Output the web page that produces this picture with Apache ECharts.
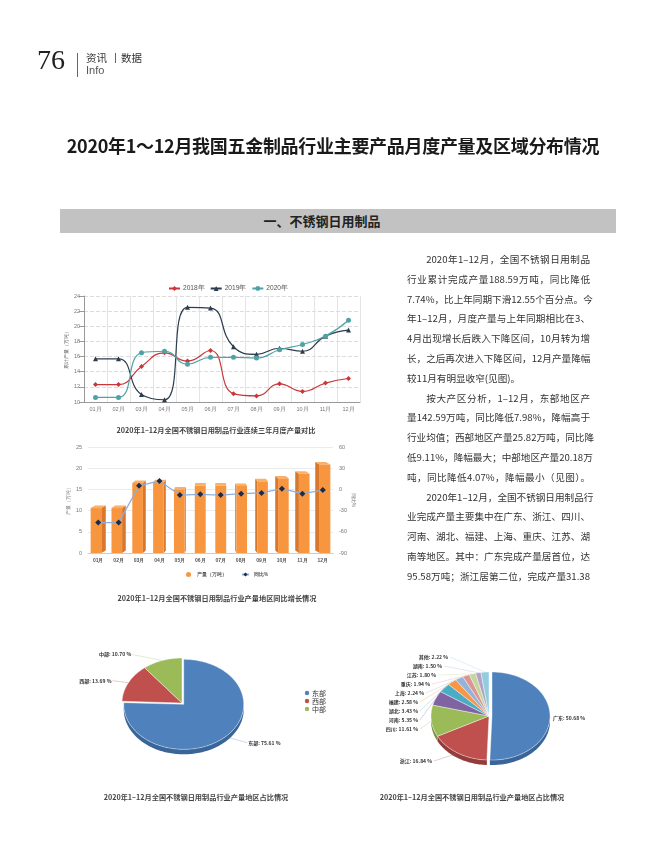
<!DOCTYPE html>
<html><head><meta charset="utf-8">
<script src="https://cdn.jsdelivr.net/npm/echarts@6/dist/echarts.min.js"></script>
<style>
html,body{margin:0;padding:0;background:#fff;}
#page{position:relative;width:650px;height:850px;overflow:hidden;font-family:"Noto Sans CJK SC","Noto Sans",sans-serif;color:#333;}
#chart{position:absolute;left:0;top:0;width:650px;height:850px;}
.t{position:absolute;white-space:nowrap;}
.para{position:absolute;left:407px;top:250px;width:183px;font-size:9.6px;color:#333;}
.para div{height:19.8px;line-height:19.8px;text-align:justify;text-align-last:justify;white-space:nowrap;overflow:visible;}
.para div.ind{padding-left:19.2px;}
.para div.last{text-align-last:left;}
.cap{position:absolute;width:320px;text-align:center;font-size:7.2px;font-weight:bold;color:#444;}
</style></head>
<body><div id="page">
<div id="chart"></div>
<div class="t" style="left:37px;top:44px;font-family:'Liberation Serif','DejaVu Serif',serif;font-size:28px;color:#222;">76</div>
<div class="t" style="left:77px;top:53px;width:1px;height:24px;background:#666;"></div>
<div class="t" style="left:86px;top:50px;font-size:10.5px;color:#333;">资讯</div>
<div class="t" style="left:86px;top:64px;font-family:'Liberation Sans',sans-serif;font-size:11px;color:#555;">Info</div>
<div class="t" style="left:115px;top:53px;width:1px;height:10px;background:#666;"></div>
<div class="t" style="left:121px;top:50px;font-size:10.5px;color:#333;">数据</div>
<div class="t" style="left:8px;top:132px;width:650px;text-align:center;font-size:18px;font-weight:bold;color:#1a1a1a;letter-spacing:-0.3px;">2020年1～12月我国五金制品行业主要产品月度产量及区域分布情况</div>
<div class="t" style="left:60px;top:209px;width:556px;height:24px;background:#c2c2c2;"></div>
<div class="t" style="left:172px;top:209px;width:300px;height:24px;line-height:24px;text-align:center;font-size:13px;font-weight:bold;color:#222;">一、不锈钢日用制品</div>
<div class="para">
<div class="ind">2020年1–12月，全国不锈钢日用制品</div>
<div>行业累计完成产量188.59万吨，同比降低</div>
<div>7.74%，比上年同期下滑12.55个百分点。今</div>
<div>年1–12月，月度产量与上年同期相比在3、</div>
<div>4月出现增长后跌入下降区间，10月转为增</div>
<div>长，之后再次进入下降区间，12月产量降幅</div>
<div class="last">较11月有明显收窄(见图)。</div>
<div class="ind">按大产区分析，1–12月，东部地区产</div>
<div>量142.59万吨，同比降低7.98%，降幅高于</div>
<div>行业均值；西部地区产量25.82万吨，同比降</div>
<div>低9.11%，降幅最大；中部地区产量20.18万</div>
<div>吨，同比降低4.07%，降幅最小（见图）。</div>
<div class="ind">2020年1–12月，全国不锈钢日用制品行</div>
<div>业完成产量主要集中在广东、浙江、四川、</div>
<div>河南、湖北、福建、上海、重庆、江苏、湖</div>
<div>南等地区。其中：广东完成产量居首位，达</div>
<div>95.58万吨；浙江居第二位，完成产量31.38</div>
</div>
<div class="cap" style="left:56px;top:425px;">2020年1–12月全国不锈钢日用制品行业连续三年月度产量对比</div>
<div class="cap" style="left:57px;top:593px;">2020年1–12月全国不锈钢日用制品行业产量地区同比增长情况</div>
<div class="cap" style="left:36px;top:792px;">2020年1–12月全国不锈钢日用制品行业产量地区占比情况</div>
<div class="cap" style="left:312px;top:792px;">2020年1–12月全国不锈钢日用制品行业产量地区占比情况</div>
</div>
<script>
// ---- data ----
const months = ['01月','02月','03月','04月','05月','06月','07月','08月','09月','10月','11月','12月'];
const prod2018 = [12.3,12.3,14.7,16.5,15.4,16.8,11.1,10.8,12.4,11.4,12.5,13.1];
const prod2019 = [15.7,15.7,11.0,10.3,22.5,22.4,17.3,16.3,17.1,16.7,18.7,19.5];
const prod2020 = [10.6,10.6,16.5,16.7,15.0,15.9,15.9,15.8,16.9,17.6,18.7,20.8];
const monthlyOutput = [10.6,10.6,16.5,16.7,15.0,15.9,15.9,15.8,16.9,17.6,18.7,20.9];
const yoyPct = [-47,-47,5,12,-8,-7,-8,-6,-5,1,-6,-1];
const lineTicks = [10,12,14,16,18,20,22,24];
const outputTicks = [0,5,10,15,20,25];
const yoyTicks = [-90,-60,-30,0,30,60];
const regionNames = ['东部','西部','中部'];
const regionShare = [75.61,13.69,10.70];
const provNames = ['广东','浙江','四川','河南','湖北','福建','上海','重庆','江苏','湖南','其他'];
const provShare = [50.68,16.84,11.61,5.35,3.43,2.58,2.24,1.94,1.80,1.50,2.22];

// ---- styles / layout ----
const regionColors = ['#4f81bd','#c0504d','#9bbb59'];
const regionSide = ['#3a6598','#943c3a','#78933f'];
const provColors = ['#4f81bd','#c0504d','#9bbb59','#8064a2','#4bacc6','#f79646','#95b3d7','#d99694','#c3d69b','#b3a2c7','#93cddd'];
const provSide = ['#3a6598','#943c3a','#78933f','#624c7e','#37889d','#c47230','#7290b4','#b07371','#9aab78','#8e7ea0','#6fa7b6'];
const labelFont = 'bold 5px "Noto Sans CJK SC"';

function makePie3D(cfg){
  const total = cfg.values.reduce((a,b)=>a+b,0);
  const starts = []; let acc = 0;
  cfg.values.forEach(v=>{ starts.push(acc/total*Math.PI*2); acc += v; });
  return function(params, api){
    const i = params.dataIndex;
    const v = api.value(0);
    const a0 = starts[i], a1 = a0 + v/total*Math.PI*2;
    const mid = (a0+a1)/2;
    const ex = cfg.explode[i] || 0;
    const cx = cfg.cx + ex*Math.sin(mid), cy = cfg.cy - ex*Math.cos(mid)*cfg.ry/cfg.rx;
    const pt = (a,dy)=>[cx+cfg.rx*Math.sin(a), cy-cfg.ry*Math.cos(a)+(dy||0)];
    const arc = (s,e,dy)=>{ const n=Math.max(2,Math.ceil((e-s)/(Math.PI/120))); const r=[]; for(let k=0;k<=n;k++) r.push(pt(s+(e-s)*k/n,dy)); return r; };
    const children = [];
    const s2 = Math.max(a0, Math.PI/2), e2 = Math.min(a1, Math.PI*1.5);
    if (e2 > s2) {
      const up = arc(s2,e2,0), dn = arc(s2,e2,cfg.h).reverse();
      children.push({type:'polygon', z2:1, shape:{points:up.concat(dn)}, style:{fill:cfg.side[i]}});
    }
    children.push({type:'polygon', z2:2, shape:{points:[[cx,cy]].concat(arc(a0,a1,0))}, style:{fill:cfg.colors[i], stroke:'#ffffff', lineWidth:0.4}});
    const edge = pt(mid,0);
    const L = cfg.label(i, edge);
    children.push({type:'polyline', z2:3, shape:{points:[edge,[L.lx,L.ly]]}, style:{stroke:cfg.colors[i], lineWidth:0.5, opacity:0.6, fill:null}});
    children.push({type:'text', z2:4, x:L.x, y:L.y, style:{text:cfg.names[i]+': '+v.toFixed(2)+' %', font:labelFont, fill:'#333', align:L.align, verticalAlign:'middle'}});
    return {type:'group', children};
  };
}

const leftLabelOffset = [[23,6],[-17,-2],[-31,-6]];
const leftPie = makePie3D({cx:182, cy:703, rx:60, ry:45, h:5, values:regionShare, names:regionNames,
  colors:regionColors, side:regionSide, explode:[2.5,0,0],
  label:(i,e)=>{ const o=leftLabelOffset[i]; const x=e[0]+o[0], y=e[1]+o[1]; const right=o[0]>0;
    return {x:x, y:y, align:right?'left':'right', lx:right?x-1:x+1, ly:y}; }});

const rightLabelPos = [[553,718],[432,761],[418,729],[418,720],[418,711],[418,702],[424,693],[430,684],[436,675],[442,666],[448,657]];
const rightPie = makePie3D({cx:489, cy:716, rx:58, ry:44, h:5, values:provShare, names:provNames,
  colors:provColors, side:provSide, explode:[3,0,0,0,0,0,0,0,0,0,0],
  label:(i,e)=>{ const p=rightLabelPos[i]; const right=i===0;
    return {x:p[0], y:p[1], align:right?'left':'right', lx:right?p[0]-2:p[0]+2, ly:p[1]}; }});

function renderBar3D(params, api){
  const idx = api.value(0), v = api.value(1);
  const top = api.coord([idx, v]), base = api.coord([idx, 0]);
  const band = api.size([1,0])[0];
  const w = band*0.52;
  const half = (months.length-1)/2;
  const d = 4.5*(half-idx)/half;
  const dy = 2.5;
  const x0 = top[0]-w/2-d/2, x1 = x0+w;
  const yT = top[1], yB = base[1];
  const sx = d > 0 ? x1 : x0;
  return {type:'group', children:[
    {type:'polygon', shape:{points:[[sx,yT],[sx+d,yT-dy],[sx+d,yB-dy],[sx,yB]]}, style:{fill:'#d9782c'}},
    {type:'polygon', shape:{points:[[x0,yT],[x1,yT],[x1+d,yT-dy],[x0+d,yT-dy]]}, style:{fill:'#f9b06a'}},
    {type:'rect', shape:{x:x0, y:yT, width:w, height:yB-yT}, style:{fill:'#f7963f'}}
  ]};
}

const tickStyle = {fontSize:5.5, color:'#777'};
const chart = echarts.init(document.getElementById('chart'));
chart.setOption({
  animation:false,
  grid:[
    {left:84, top:296, width:276, height:106, outerBoundsMode:'none'},
    {left:88, top:447, width:245, height:106, outerBoundsMode:'none'}
  ],
  legend:[
    {left:163, top:280, itemWidth:11, itemHeight:6, itemGap:5, data:['2018年','2019年','2020年'],
     textStyle:{fontSize:6.6, color:'#555', padding:[0,0,0,-2]}},
    {left:181, top:567, itemWidth:7, itemHeight:5, itemGap:14,
     data:[{name:'产量（万吨）', icon:'circle'}, '同比%'], textStyle:{fontSize:4.5, color:'#555', fontWeight:'bold'}}
  ],
  xAxis:[
    {gridIndex:0, type:'category', data:months, axisLine:{lineStyle:{color:'#999'}}, axisTick:{lineStyle:{color:'#999'}},
     axisLabel:Object.assign({margin:4}, tickStyle), splitLine:{show:true, lineStyle:{color:'#e4e4e4', width:1}}},
    {gridIndex:1, type:'category', data:months, axisLine:{lineStyle:{color:'#ccc'}}, axisTick:{show:false},
     axisLabel:{margin:5, fontSize:5, color:'#555', fontWeight:'bold'}, splitLine:{show:false}}
  ],
  yAxis:[
    {gridIndex:0, type:'value', min:lineTicks[0], max:lineTicks[lineTicks.length-1], interval:lineTicks[1]-lineTicks[0],
     axisLine:{show:true, lineStyle:{color:'#999'}}, axisTick:{show:true, lineStyle:{color:'#999'}},
     axisLabel:Object.assign({margin:4}, tickStyle), splitLine:{lineStyle:{color:'#dcdcdc', type:'dashed'}},
     name:'累计产量（万吨）', nameLocation:'middle', nameGap:15, nameTextStyle:{fontSize:5, color:'#555'}},
    {gridIndex:1, type:'value', min:outputTicks[0], max:outputTicks[outputTicks.length-1], interval:outputTicks[1]-outputTicks[0],
     axisLine:{show:false}, axisTick:{show:false}, axisLabel:Object.assign({margin:6}, tickStyle),
     splitLine:{lineStyle:{color:'#ebebeb'}},
     name:'产量（万吨）', nameLocation:'middle', nameGap:17, nameTextStyle:{fontSize:5, color:'#777'}},
    {gridIndex:1, type:'value', position:'right', min:yoyTicks[0], max:yoyTicks[yoyTicks.length-1], interval:yoyTicks[1]-yoyTicks[0],
     axisLine:{show:false}, axisTick:{show:false}, axisLabel:Object.assign({margin:6}, tickStyle), splitLine:{show:false},
     name:'同比%', nameLocation:'middle', nameGap:16, nameRotate:-90, nameTextStyle:{fontSize:5, color:'#777'}}
  ],
  series:[
    {name:'2018年', type:'line', xAxisIndex:0, yAxisIndex:0, data:prod2018, smooth:true, symbol:'diamond', symbolSize:5,
     lineStyle:{width:1.2, color:'#c8373a'}, itemStyle:{color:'#c8373a'}},
    {name:'2019年', type:'line', xAxisIndex:0, yAxisIndex:0, data:prod2019, smooth:true, symbol:'triangle', symbolSize:5,
     lineStyle:{width:1.2, color:'#2c3d4f'}, itemStyle:{color:'#2c3d4f'}},
    {name:'2020年', type:'line', xAxisIndex:0, yAxisIndex:0, data:prod2020, smooth:true, symbol:'circle', symbolSize:5,
     lineStyle:{width:1.2, color:'#4fa3a6'}, itemStyle:{color:'#4fa3a6'}},
    {name:'产量（万吨）', type:'custom', xAxisIndex:1, yAxisIndex:1, renderItem:renderBar3D,
     itemStyle:{color:'#f7963f'}, encode:{x:0, y:1}, data:monthlyOutput.map((v,i)=>[i,v])},
    {name:'同比%', type:'line', xAxisIndex:1, yAxisIndex:2, data:yoyPct, symbol:'diamond', symbolSize:6, z:5,
     lineStyle:{width:1.2, color:'#8daee0'}, itemStyle:{color:'#1c2b48'}},
    {name:'地区占比', type:'custom', coordinateSystem:'none', renderItem:leftPie, data:regionShare},
    {name:'省份占比', type:'custom', coordinateSystem:'none', renderItem:rightPie, data:provShare}
  ],
  graphic: regionNames.map((n,i)=>({type:'group', children:[
    {type:'circle', shape:{cx:307, cy:693+i*8, r:2.2}, style:{fill:regionColors[i]}},
    {type:'text', x:312, y:693+i*8, style:{text:n, font:'7px "Noto Sans CJK SC"', fill:'#333', verticalAlign:'middle'}}
  ]}))
});
</script>
</body></html>
